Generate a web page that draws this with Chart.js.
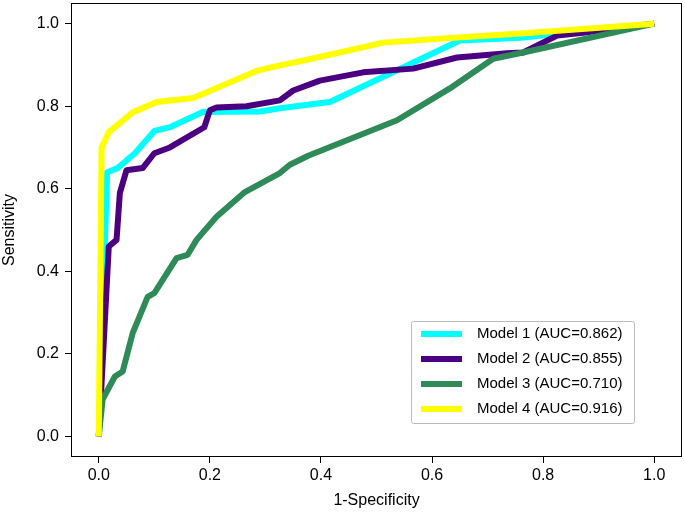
<!DOCTYPE html>
<html>
<head>
<meta charset="utf-8">
<script src="https://cdn.jsdelivr.net/npm/chart.js@4.4.1/dist/chart.umd.min.js"></script>
<style>
  html, body { margin: 0; padding: 0; background: #fff; }
  #wrap { width: 685px; height: 514px; }
</style>
</head>
<body>
<div id="wrap"><canvas id="roc"></canvas></div>
<script>
// Datos (1-Specificity, Sensitivity)
const etiquetas = ['Model 1 (AUC=0.862)', 'Model 2 (AUC=0.855)', 'Model 3 (AUC=0.710)', 'Model 4 (AUC=0.916)'];
const colores = ['#00FFFF', '#4B0082', '#2E8B57', '#FFFF00'];

const m1X = [0, 0.015, 0.034, 0.065, 0.10, 0.13, 0.187, 0.29, 0.326, 0.416, 0.65, 0.76, 1.0];
const m1Y = [0, 0.64, 0.65, 0.686, 0.74, 0.75, 0.786, 0.787, 0.795, 0.81, 0.959, 0.966, 1.0];

const m2X = [0, 0.018, 0.032, 0.038, 0.05, 0.079, 0.10, 0.128, 0.19, 0.20, 0.212, 0.266, 0.326, 0.35, 0.398, 0.476, 0.566, 0.645, 0.735, 0.764, 0.825, 0.872, 1.0];
const m2Y = [0, 0.46, 0.476, 0.59, 0.645, 0.65, 0.686, 0.70, 0.749, 0.79, 0.797, 0.80, 0.814, 0.838, 0.862, 0.882, 0.891, 0.918, 0.928, 0.93, 0.971, 0.978, 1.0];

const m3X = [0, 0.007, 0.029, 0.043, 0.061, 0.088, 0.10, 0.14, 0.16, 0.176, 0.212, 0.263, 0.326, 0.344, 0.377, 0.537, 0.632, 0.71, 0.764, 1.0];
const m3Y = [0, 0.09, 0.145, 0.157, 0.25, 0.338, 0.347, 0.432, 0.44, 0.476, 0.532, 0.592, 0.638, 0.658, 0.68, 0.766, 0.843, 0.915, 0.93, 1.0];

const m4X = [0, 0.005, 0.018, 0.061, 0.104, 0.17, 0.285, 0.326, 0.377, 0.512, 0.632, 0.759, 1.0];
const m4Y = [0, 0.70, 0.737, 0.785, 0.81, 0.82, 0.886, 0.899, 0.913, 0.954, 0.965, 0.976, 1.0];

const marcas = [0, 0.2, 0.4, 0.6, 0.8, 1.0];

const series = [[m1X, m1Y], [m2X, m2Y], [m3X, m3Y], [m4X, m4Y]];
const fuente = "'Liberation Sans', Arial, sans-serif";

// Marco de los ejes y leyenda dentro del área del gráfico
const marcoYLeyenda = {
    id: 'marcoYLeyenda',
    afterDraw(chart) {
        const { ctx, chartArea: a } = chart;
        ctx.save();
        ctx.strokeStyle = '#000';
        ctx.lineWidth = 1;
        ctx.strokeRect(a.left + 0.5, a.top + 0.5, a.right - a.left - 1, a.bottom - a.top - 1);

        const bx = a.right - 271, by = a.bottom - 136, bw = 223, bh = 102;
        ctx.fillStyle = 'rgba(255,255,255,0.8)';
        ctx.strokeStyle = '#bbb';
        ctx.beginPath();
        ctx.roundRect(bx + 0.5, by + 0.5, bw, bh, 2);
        ctx.fill();
        ctx.stroke();

        ctx.font = '15px ' + fuente;
        ctx.textBaseline = 'middle';
        ctx.fillStyle = '#000';
        etiquetas.forEach((t, i) => {
            const yy = by + 13 + i * 25;
            ctx.strokeStyle = colores[i];
            ctx.lineWidth = 6;
            ctx.beginPath();
            ctx.moveTo(bx + 10, yy);
            ctx.lineTo(bx + 51, yy);
            ctx.stroke();
            ctx.fillText(t, bx + 66, yy);
        });
        ctx.restore();
    }
};

function inicializarGrafico() {
    const ctx = document.getElementById('roc').getContext('2d');
    new Chart(ctx, {
        type: 'scatter',
        data: {
            datasets: series.map((s, i) => ({
                label: etiquetas[i],
                data: s[0].map((x, j) => ({ x: x, y: s[1][j] })),
                showLine: true,
                borderColor: colores[i],
                backgroundColor: colores[i],
                borderWidth: 6,
                pointRadius: 0,
                borderJoinStyle: 'round',
                borderCapStyle: 'butt',
                order: 4 - i
            }))
        },
        options: {
            responsive: true,
            maintainAspectRatio: false,
            animation: false,
            layout: { padding: { left: 0, top: 3, right: 3, bottom: 0 } },
            plugins: {
                legend: { display: false },
                tooltip: { enabled: false }
            },
            scales: {
                x: {
                    type: 'linear',
                    min: -0.05,
                    max: 1.05,
                    afterBuildTicks: s => { s.ticks = marcas.map(v => ({ value: v })); },
                    afterFit: s => { s.height = 57; s.paddingLeft = 0; s.paddingRight = 0; },
                    grid: { drawOnChartArea: false, drawTicks: true, tickLength: 6, color: '#000', tickWidth: 1 },
                    border: { display: false },
                    ticks: {
                        color: '#000',
                        padding: 3,
                        font: { family: fuente, size: 16 },
                        callback: v => v.toFixed(1)
                    },
                    title: {
                        display: true,
                        text: '1-Specificity',
                        color: '#000',
                        font: { family: fuente, size: 16 },
                        padding: { top: 0, bottom: 4 }
                    }
                },
                y: {
                    type: 'linear',
                    min: -0.05,
                    max: 1.05,
                    afterBuildTicks: s => { s.ticks = marcas.map(v => ({ value: v })); },
                    afterFit: s => { s.width = 71; s.paddingTop = 0; s.paddingBottom = 0; },
                    grid: { drawOnChartArea: false, drawTicks: true, tickLength: 6, color: '#000', tickWidth: 1 },
                    border: { display: false },
                    ticks: {
                        color: '#000',
                        padding: 6,
                        font: { family: fuente, size: 16 },
                        callback: v => v.toFixed(1)
                    },
                    title: {
                        display: true,
                        text: 'Sensitivity',
                        color: '#000',
                        font: { family: fuente, size: 16 },
                        padding: { top: 0, bottom: 0 }
                    }
                }
            }
        },
        plugins: [marcoYLeyenda]
    });
}

document.addEventListener('DOMContentLoaded', inicializarGrafico);
</script>
</body>
</html>
